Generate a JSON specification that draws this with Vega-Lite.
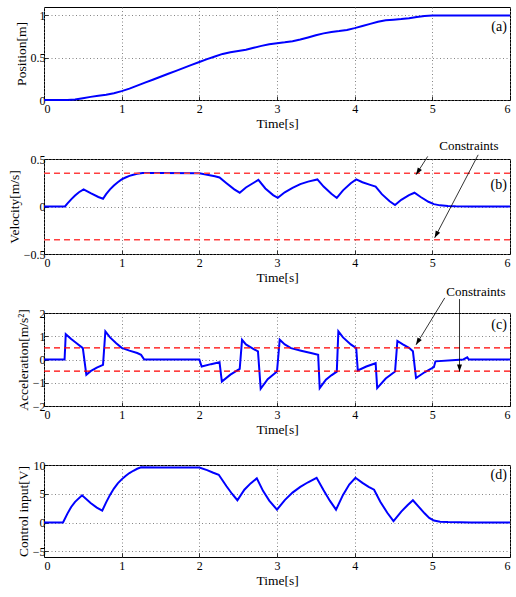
{
  "$schema": "https://vega.github.io/schema/vega-lite/v6.json",
  "autosize": {"type": "pad"},
  "padding": {"left": 6, "top": 6, "right": 2, "bottom": 4},
  "spacing": 59,
  "bounds": "flush",
  "datasets": {
    "position": [
      {"t": 0, "p": 0}, {"t": 0.3, "p": 0}, {"t": 0.4, "p": 0.005}, {"t": 0.5, "p": 0.02}, {"t": 0.6, "p": 0.037},
      {"t": 0.7, "p": 0.05}, {"t": 0.8, "p": 0.062}, {"t": 0.9, "p": 0.08}, {"t": 1.0, "p": 0.105}, {"t": 1.1, "p": 0.135},
      {"t": 1.2, "p": 0.17}, {"t": 1.3, "p": 0.205}, {"t": 1.4, "p": 0.24}, {"t": 1.5, "p": 0.275}, {"t": 1.6, "p": 0.31},
      {"t": 1.7, "p": 0.345}, {"t": 1.8, "p": 0.38}, {"t": 1.9, "p": 0.415}, {"t": 2.0, "p": 0.45}, {"t": 2.1, "p": 0.483},
      {"t": 2.2, "p": 0.515}, {"t": 2.3, "p": 0.545}, {"t": 2.4, "p": 0.565}, {"t": 2.5, "p": 0.58}, {"t": 2.6, "p": 0.595},
      {"t": 2.7, "p": 0.618}, {"t": 2.8, "p": 0.64}, {"t": 2.9, "p": 0.66}, {"t": 3.0, "p": 0.672}, {"t": 3.1, "p": 0.682},
      {"t": 3.2, "p": 0.695}, {"t": 3.3, "p": 0.715}, {"t": 3.4, "p": 0.74}, {"t": 3.5, "p": 0.765}, {"t": 3.6, "p": 0.788},
      {"t": 3.7, "p": 0.805}, {"t": 3.8, "p": 0.815}, {"t": 3.9, "p": 0.828}, {"t": 4.0, "p": 0.85}, {"t": 4.1, "p": 0.875},
      {"t": 4.2, "p": 0.9}, {"t": 4.3, "p": 0.925}, {"t": 4.4, "p": 0.942}, {"t": 4.5, "p": 0.95}, {"t": 4.6, "p": 0.957},
      {"t": 4.7, "p": 0.967}, {"t": 4.8, "p": 0.982}, {"t": 4.9, "p": 0.993}, {"t": 5.0, "p": 0.998}, {"t": 5.2, "p": 1.0},
      {"t": 6.0, "p": 1.0}
    ],
    "velocity": [
      {"t": 0, "v": 0}, {"t": 0.27, "v": 0}, {"t": 0.3, "v": 0.03}, {"t": 0.35, "v": 0.075}, {"t": 0.4, "v": 0.115},
      {"t": 0.45, "v": 0.15}, {"t": 0.51, "v": 0.18}, {"t": 0.6, "v": 0.14}, {"t": 0.7, "v": 0.1}, {"t": 0.76, "v": 0.082},
      {"t": 0.8, "v": 0.13}, {"t": 0.85, "v": 0.18}, {"t": 0.9, "v": 0.22}, {"t": 0.95, "v": 0.255}, {"t": 1.0, "v": 0.285},
      {"t": 1.05, "v": 0.305}, {"t": 1.1, "v": 0.322}, {"t": 1.15, "v": 0.335}, {"t": 1.2, "v": 0.345}, {"t": 1.27, "v": 0.352},
      {"t": 1.5, "v": 0.352}, {"t": 2.0, "v": 0.35}, {"t": 2.1, "v": 0.335}, {"t": 2.2, "v": 0.318}, {"t": 2.26, "v": 0.306},
      {"t": 2.35, "v": 0.245}, {"t": 2.45, "v": 0.18}, {"t": 2.52, "v": 0.145}, {"t": 2.6, "v": 0.2}, {"t": 2.7, "v": 0.25},
      {"t": 2.76, "v": 0.28}, {"t": 2.85, "v": 0.19}, {"t": 2.95, "v": 0.12}, {"t": 3.01, "v": 0.092}, {"t": 3.1, "v": 0.15},
      {"t": 3.2, "v": 0.195}, {"t": 3.3, "v": 0.235}, {"t": 3.4, "v": 0.262}, {"t": 3.52, "v": 0.285}, {"t": 3.6, "v": 0.21},
      {"t": 3.7, "v": 0.135}, {"t": 3.77, "v": 0.09}, {"t": 3.85, "v": 0.17}, {"t": 3.95, "v": 0.245}, {"t": 4.02, "v": 0.285},
      {"t": 4.1, "v": 0.255}, {"t": 4.2, "v": 0.228}, {"t": 4.27, "v": 0.21}, {"t": 4.35, "v": 0.13}, {"t": 4.45, "v": 0.055},
      {"t": 4.52, "v": 0.015}, {"t": 4.6, "v": 0.07}, {"t": 4.7, "v": 0.12}, {"t": 4.77, "v": 0.145}, {"t": 4.85, "v": 0.1},
      {"t": 4.95, "v": 0.05}, {"t": 5.02, "v": 0.025}, {"t": 5.1, "v": 0.012}, {"t": 5.2, "v": 0.006}, {"t": 5.3, "v": 0.002},
      {"t": 5.5, "v": 0}, {"t": 6.0, "v": 0}
    ],
    "acceleration": [
      {"t": 0, "a": 0}, {"t": 0.265, "a": 0}, {"t": 0.28, "a": 1.09}, {"t": 0.35, "a": 0.88}, {"t": 0.42, "a": 0.7},
      {"t": 0.5, "a": 0.49}, {"t": 0.545, "a": -0.66}, {"t": 0.6, "a": -0.5}, {"t": 0.68, "a": -0.35}, {"t": 0.76, "a": -0.23},
      {"t": 0.79, "a": 1.21}, {"t": 0.85, "a": 0.95}, {"t": 0.93, "a": 0.7}, {"t": 1.0, "a": 0.5}, {"t": 1.1, "a": 0.38},
      {"t": 1.2, "a": 0.28}, {"t": 1.25, "a": 0.2}, {"t": 1.29, "a": 0.0}, {"t": 2.0, "a": 0.0}, {"t": 2.03, "a": -0.3},
      {"t": 2.15, "a": -0.2}, {"t": 2.26, "a": -0.12}, {"t": 2.29, "a": -0.95}, {"t": 2.4, "a": -0.65}, {"t": 2.52, "a": -0.4},
      {"t": 2.55, "a": 0.85}, {"t": 2.6, "a": 0.65}, {"t": 2.7, "a": 0.45}, {"t": 2.755, "a": 0.35}, {"t": 2.79, "a": -1.26},
      {"t": 2.88, "a": -0.85}, {"t": 3.0, "a": -0.52}, {"t": 3.035, "a": 0.85}, {"t": 3.1, "a": 0.65}, {"t": 3.18, "a": 0.49},
      {"t": 3.31, "a": 0.38}, {"t": 3.45, "a": 0.27}, {"t": 3.53, "a": 0.2}, {"t": 3.55, "a": -1.23}, {"t": 3.63, "a": -0.87},
      {"t": 3.7, "a": -0.68}, {"t": 3.77, "a": -0.52}, {"t": 3.79, "a": 1.21}, {"t": 3.85, "a": 0.95}, {"t": 3.95, "a": 0.65},
      {"t": 4.02, "a": 0.49}, {"t": 4.04, "a": -0.47}, {"t": 4.15, "a": -0.3}, {"t": 4.27, "a": -0.16}, {"t": 4.29, "a": -1.23},
      {"t": 4.4, "a": -0.82}, {"t": 4.52, "a": -0.52}, {"t": 4.55, "a": 0.8}, {"t": 4.62, "a": 0.65}, {"t": 4.7, "a": 0.5},
      {"t": 4.75, "a": 0.35}, {"t": 4.79, "a": -0.8}, {"t": 4.9, "a": -0.55}, {"t": 5.02, "a": -0.33}, {"t": 5.04, "a": -0.08},
      {"t": 5.3, "a": -0.02}, {"t": 5.4, "a": 0.0}, {"t": 5.45, "a": 0.09}, {"t": 5.47, "a": 0.0}, {"t": 6.0, "a": 0}
    ],
    "control": [
      {"t": 0, "u": 0}, {"t": 0.245, "u": 0}, {"t": 0.3, "u": 1.5}, {"t": 0.35, "u": 2.7}, {"t": 0.4, "u": 3.6},
      {"t": 0.49, "u": 4.73}, {"t": 0.6, "u": 3.4}, {"t": 0.68, "u": 2.6}, {"t": 0.75, "u": 2.07}, {"t": 0.8, "u": 3.5},
      {"t": 0.85, "u": 4.8}, {"t": 0.9, "u": 5.9}, {"t": 0.95, "u": 6.8}, {"t": 1.0, "u": 7.5}, {"t": 1.05, "u": 8.1},
      {"t": 1.1, "u": 8.6}, {"t": 1.15, "u": 9.0}, {"t": 1.2, "u": 9.35}, {"t": 1.25, "u": 9.6}, {"t": 1.5, "u": 9.55},
      {"t": 2.0, "u": 9.55}, {"t": 2.1, "u": 9.1}, {"t": 2.18, "u": 8.65}, {"t": 2.25, "u": 8.3}, {"t": 2.35, "u": 6.3},
      {"t": 2.42, "u": 5.0}, {"t": 2.49, "u": 3.87}, {"t": 2.58, "u": 5.7}, {"t": 2.66, "u": 6.8}, {"t": 2.74, "u": 7.67},
      {"t": 2.82, "u": 5.5}, {"t": 2.9, "u": 3.8}, {"t": 3.0, "u": 2.23}, {"t": 3.1, "u": 3.9}, {"t": 3.2, "u": 5.2},
      {"t": 3.3, "u": 6.2}, {"t": 3.4, "u": 7.0}, {"t": 3.51, "u": 7.78}, {"t": 3.6, "u": 5.6}, {"t": 3.68, "u": 3.8},
      {"t": 3.76, "u": 2.23}, {"t": 3.85, "u": 4.8}, {"t": 3.93, "u": 6.6}, {"t": 4.01, "u": 7.78}, {"t": 4.1, "u": 6.9},
      {"t": 4.18, "u": 6.2}, {"t": 4.25, "u": 5.7}, {"t": 4.33, "u": 3.6}, {"t": 4.42, "u": 1.7}, {"t": 4.5, "u": 0.25},
      {"t": 4.6, "u": 1.9}, {"t": 4.68, "u": 3.0}, {"t": 4.75, "u": 3.87}, {"t": 4.82, "u": 2.8}, {"t": 4.9, "u": 1.6},
      {"t": 4.96, "u": 0.8}, {"t": 5.02, "u": 0.33}, {"t": 5.1, "u": 0.15}, {"t": 5.2, "u": 0.08}, {"t": 5.35, "u": 0.03},
      {"t": 5.5, "u": 0}, {"t": 6.0, "u": 0}
    ],
    "velLimits": [{"c": 0.35}, {"c": -0.35}],
    "accLimits": [{"c": 0.5}, {"c": -0.5}],
    "velArrows": [
      {"x0": 4.94, "y0": 0.527, "x1": 4.79, "y1": 0.335, "dir": 213},
      {"x0": 5.59, "y0": 0.544, "x1": 5.03, "y1": -0.33, "dir": 207.5}
    ],
    "accArrows": [
      {"x0": 5.16, "y0": 2.65, "x1": 4.79, "y1": 0.63, "dir": 211},
      {"x0": 5.35, "y0": 2.6, "x1": 5.35, "y1": -0.52, "dir": 180}
    ]
  },
  "vconcat": [
    {
      "width": 466, "height": 93,
      "layer": [
        {
          "data": {"name": "position"},
          "mark": {"type": "line", "color": "#0000ff", "strokeWidth": 2},
          "encoding": {
            "x": {"field": "t", "type": "quantitative", "scale": {"domain": [0, 6]}, "axis": {"values": [0, 1, 2, 3, 4, 5, 6], "tickCount": 20, "title": "Time[s]", "labelOverlap": false}},
            "y": {"field": "p", "type": "quantitative", "scale": {"domain": [0, 1.1]}, "axis": {"values": [0, 0.5, 1], "tickCount": 20, "title": "Position[m]", "labelOverlap": false}}
          }
        },
        {
          "data": {"values": [{"label": "(a)"}]},
          "mark": {"type": "text", "align": "right", "baseline": "middle", "fontSize": 14},
          "encoding": {"x": {"datum": 5.96, "type": "quantitative"}, "y": {"datum": 0.86, "type": "quantitative"}, "text": {"field": "label"}}
        }
      ]
    },
    {
      "width": 466, "height": 95,
      "layer": [
        {
          "data": {"name": "velocity"},
          "mark": {"type": "line", "color": "#0000ff", "strokeWidth": 2},
          "encoding": {
            "x": {"field": "t", "type": "quantitative", "scale": {"domain": [0, 6]}, "axis": {"values": [0, 1, 2, 3, 4, 5, 6], "tickCount": 20, "title": "Time[s]", "labelOverlap": false}},
            "y": {"field": "v", "type": "quantitative", "scale": {"domain": [-0.5, 0.5]}, "axis": {"values": [-0.5, 0, 0.5], "tickCount": 20, "title": "Velocity[m/s]", "labelOverlap": false}}
          }
        },
        {
          "data": {"name": "velLimits"},
          "mark": {"type": "rule", "color": "#ff4040", "strokeDash": [6, 4], "strokeWidth": 1.3},
          "encoding": {"y": {"field": "c", "type": "quantitative"}}
        },
        {
          "data": {"name": "velArrows"},
          "mark": {"type": "rule", "color": "#000", "strokeWidth": 0.8},
          "encoding": {
            "x": {"field": "x0", "type": "quantitative"}, "y": {"field": "y0", "type": "quantitative"},
            "x2": {"field": "x1"}, "y2": {"field": "y1"}
          }
        },
        {
          "data": {"name": "velArrows"},
          "mark": {"type": "point", "shape": "M0,0L-0.35,1L0.35,1Z", "filled": true, "color": "#000", "opacity": 1, "size": 200},
          "encoding": {
            "x": {"field": "x1", "type": "quantitative"}, "y": {"field": "y1", "type": "quantitative"},
            "angle": {"field": "dir", "type": "quantitative", "scale": null}
          }
        },
        {
          "data": {"values": [{"label": "Constraints"}]},
          "mark": {"type": "text", "align": "center", "baseline": "middle", "fontSize": 13},
          "encoding": {"x": {"datum": 5.47, "type": "quantitative"}, "y": {"datum": 0.64, "type": "quantitative"}, "text": {"field": "label"}}
        },
        {
          "data": {"values": [{"label": "(b)"}]},
          "mark": {"type": "text", "align": "right", "baseline": "middle", "fontSize": 14},
          "encoding": {"x": {"datum": 5.96, "type": "quantitative"}, "y": {"datum": 0.23, "type": "quantitative"}, "text": {"field": "label"}}
        }
      ]
    },
    {
      "width": 466, "height": 93,
      "layer": [
        {
          "data": {"name": "acceleration"},
          "mark": {"type": "line", "color": "#0000ff", "strokeWidth": 2},
          "encoding": {
            "x": {"field": "t", "type": "quantitative", "scale": {"domain": [0, 6]}, "axis": {"values": [0, 1, 2, 3, 4, 5, 6], "tickCount": 20, "title": "Time[s]", "labelOverlap": false}},
            "y": {"field": "a", "type": "quantitative", "scale": {"domain": [-2, 2]}, "axis": {"values": [-2, -1, 0, 1, 2], "tickCount": 20, "title": "Acceleration[m/s²]", "labelOverlap": false}}
          }
        },
        {
          "data": {"name": "accLimits"},
          "mark": {"type": "rule", "color": "#ff0000", "strokeDash": [6, 4], "strokeWidth": 1.3},
          "encoding": {"y": {"field": "c", "type": "quantitative"}}
        },
        {
          "data": {"name": "accArrows"},
          "mark": {"type": "rule", "color": "#000", "strokeWidth": 0.8},
          "encoding": {
            "x": {"field": "x0", "type": "quantitative"}, "y": {"field": "y0", "type": "quantitative"},
            "x2": {"field": "x1"}, "y2": {"field": "y1"}
          }
        },
        {
          "data": {"name": "accArrows"},
          "mark": {"type": "point", "shape": "M0,0L-0.35,1L0.35,1Z", "filled": true, "color": "#000", "opacity": 1, "size": 200},
          "encoding": {
            "x": {"field": "x1", "type": "quantitative"}, "y": {"field": "y1", "type": "quantitative"},
            "angle": {"field": "dir", "type": "quantitative", "scale": null}
          }
        },
        {
          "data": {"values": [{"label": "Constraints"}]},
          "mark": {"type": "text", "align": "center", "baseline": "middle", "fontSize": 13},
          "encoding": {"x": {"datum": 5.56, "type": "quantitative"}, "y": {"datum": 2.89, "type": "quantitative"}, "text": {"field": "label"}}
        },
        {
          "data": {"values": [{"label": "(c)"}]},
          "mark": {"type": "text", "align": "right", "baseline": "middle", "fontSize": 14},
          "encoding": {"x": {"datum": 5.96, "type": "quantitative"}, "y": {"datum": 1.47, "type": "quantitative"}, "text": {"field": "label"}}
        }
      ]
    },
    {
      "width": 466, "height": 92,
      "layer": [
        {
          "data": {"name": "control"},
          "mark": {"type": "line", "color": "#0000ff", "strokeWidth": 2},
          "encoding": {
            "x": {"field": "t", "type": "quantitative", "scale": {"domain": [0, 6]}, "axis": {"values": [0, 1, 2, 3, 4, 5, 6], "tickCount": 20, "title": "Time[s]", "labelOverlap": false}},
            "y": {"field": "u", "type": "quantitative", "scale": {"domain": [-5, 10]}, "axis": {"values": [-5, 0, 5, 10], "tickCount": 20, "title": "Control input[V]", "labelOverlap": false}}
          }
        },
        {
          "data": {"values": [{"label": "(d)"}]},
          "mark": {"type": "text", "align": "right", "baseline": "middle", "fontSize": 14},
          "encoding": {"x": {"datum": 5.96, "type": "quantitative"}, "y": {"datum": 8.2, "type": "quantitative"}, "text": {"field": "label"}}
        }
      ]
    }
  ],
  "config": {
    "font": "Liberation Serif",
    "view": {"stroke": "#000", "strokeWidth": 1},
    "text": {"font": "Liberation Serif", "color": "#000"},
    "axis": {
      "labelFont": "Liberation Serif", "labelFontSize": 12, "labelColor": "#000",
      "titleFont": "Liberation Serif", "titleFontSize": 13.5, "titleFontWeight": "normal", "titleColor": "#000",
      "domain": false, "ticks": true, "tickColor": "#000", "tickSize": -4, "tickWidth": 0.8,
      "grid": true, "gridColor": "#777", "gridDash": [1, 2.5], "gridWidth": 0.9, "gridOpacity": 1,
      "labelPadding": 3, "format": "~f", "labelOverlap": false, "labelBound": false
    },
    "axisX": {"labelPadding": 7, "titlePadding": 2},
    "axisY": {"titlePadding": 2}
  }
}
